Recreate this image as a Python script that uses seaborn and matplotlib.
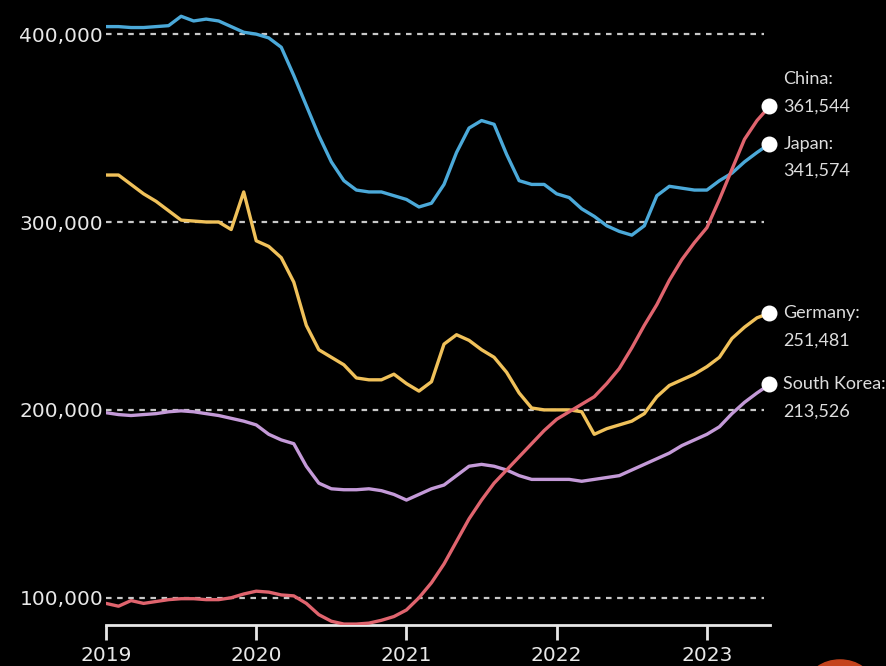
import numpy as np
import pandas as pd
import matplotlib
matplotlib.use("Agg")
import matplotlib.pyplot as plt
import seaborn as sns
from matplotlib.patches import Circle

# Monthly values (thousands), Jan 2019 .. Jun 2023
months = pd.date_range("2019-01-01", "2023-06-01", freq="MS")
japan = [404, 404, 403.5, 403.5, 404, 404.5, 409.5, 407, 408, 407, 404, 401,
         400, 398, 393, 378, 362, 346, 332, 322, 317, 316, 316, 314,
         312, 308, 310, 320, 337, 350, 354, 352, 336, 322, 320, 320,
         315, 313, 307, 303, 298, 295, 293, 298, 314, 319, 318, 317,
         317, 322, 326, 332, 337, 341.574]
germany = [325, 325, 320, 315, 311, 306, 301, 300.5, 300, 300, 296, 316,
           290, 287, 281, 268, 245, 232, 228, 224, 217, 216, 216, 219,
           214, 210, 215, 235, 240, 237, 232, 228, 220, 209, 201, 200,
           200, 200, 199, 187, 190, 192, 194, 198, 207, 213, 216, 219,
           223, 228, 238, 244, 249, 251.481]
south_korea = [198.5, 197.5, 197, 197.5, 198, 199, 199.5, 199, 198, 197, 195.5, 194,
               192, 187, 184, 182, 170, 161, 158, 157.5, 157.5, 158, 157, 155,
               152, 155, 158, 160, 165, 170, 171, 170, 168, 165, 163, 163,
               163, 163, 162, 163, 164, 165, 168, 171, 174, 177, 181, 184,
               187, 191, 198, 204, 209, 213.526]
china = [97, 95.5, 98.5, 97, 98, 99, 99.5, 99.5, 99, 99, 100, 102,
         103.5, 103, 101.5, 101, 97, 91, 87.5, 86, 86, 86.5, 88, 90,
         93.5, 100, 108, 118, 130, 142, 152, 161, 168, 175, 182, 189,
         195, 199, 203, 207, 214, 222, 233, 245, 256, 269, 280, 289,
         297, 312, 328, 344, 354, 361.544]

series = {"Japan": japan, "Germany": germany, "South Korea": south_korea, "China": china}
colors = {"Japan": "#4ba9d9", "Germany": "#f0c15a", "South Korea": "#c49ad8", "China": "#e0646e"}
label_names = {"China": "China:", "Japan": "Japan:", "Germany": "Germany:", "South Korea": "South Korea:"}
label_values = {"China": "361,544", "Japan": "341,574", "Germany": "251,481", "South Korea": "213,526"}
y_ticks = [100000, 200000, 300000, 400000]
x_ticks = [2019, 2020, 2021, 2022, 2023]

t = months.year + (months.month - 1) / 12.0
rows = []
for name, vals in series.items():
    for ti, v in zip(t, vals):
        rows.append({"t": ti, "value": v * 1000, "country": name})
df = pd.DataFrame(rows)

sns.set_style("dark", {"axes.facecolor": "black", "figure.facecolor": "black"})
plt.rcParams['font.family'] = ['Liberation Sans Narrow', 'DejaVu Sans']

fig = plt.figure(figsize=(8.86, 6.66), dpi=100, facecolor="black")
ax = fig.add_axes([106/886, 1 - 625/666, (770 - 106)/886, (625 - 5)/666])
ax.set_facecolor("black")

for yv in y_ticks:
    ax.plot([2019, 2023.38], [yv, yv], color="#c8c8c8", lw=1.6,
            linestyle=(0, (2.5, 2.5)), zorder=1)

sns.lineplot(data=df, x="t", y="value", hue="country", palette=colors,
             hue_order=["Japan", "Germany", "South Korea", "China"],
             linewidth=2.4, legend=False, ax=ax, zorder=3)

for name, vals in series.items():
    xe, ye = t[-1], vals[-1] * 1000
    ax.scatter([xe], [ye], s=110, color="white", zorder=5, clip_on=False)
    if name == "China":
        dy_name, dy_val = 19.5, 0
    else:
        dy_name, dy_val = 0, -19.5
    ax.annotate(label_names[name], (xe, ye), xytext=(10, dy_name), textcoords="offset points",
                ha="left", va="center", color="#dddddd", fontsize=13,
                family=["Lato", "DejaVu Sans"], annotation_clip=False)
    ax.annotate(label_values[name], (xe, ye), xytext=(10, dy_val), textcoords="offset points",
                ha="left", va="center", color="#dddddd", fontsize=13,
                family=["Lato", "DejaVu Sans"], annotation_clip=False)

ax.set_xlim(2019, 2023.42)
ax.set_ylim(85500, 415500)
ax.set_yticks(y_ticks)
ax.set_yticklabels([f"{v:,}" for v in y_ticks])
ax.set_xticks(x_ticks)
ax.set_xticklabels([str(x) for x in x_ticks])
ax.set_xlabel("")
ax.set_ylabel("")
ax.grid(False)
for s in ["top", "right", "left"]:
    ax.spines[s].set_visible(False)
ax.spines["bottom"].set_visible(True)
ax.spines["bottom"].set_color("#e8e8e8")
ax.spines["bottom"].set_linewidth(2)
ax.tick_params(axis="x", colors="#e8e8e8", length=11, width=2, direction="out",
               labelsize=14.5, pad=4, bottom=True)
ax.tick_params(axis="y", colors="#e8e8e8", length=0, labelsize=14.5, pad=2)

fig.patches.append(Circle((840/886, 1 - 684/666), 32/886, transform=fig.transFigure,
                          color="#c4431d", zorder=10))

fig.savefig("out.png", dpi=100, facecolor="black")
